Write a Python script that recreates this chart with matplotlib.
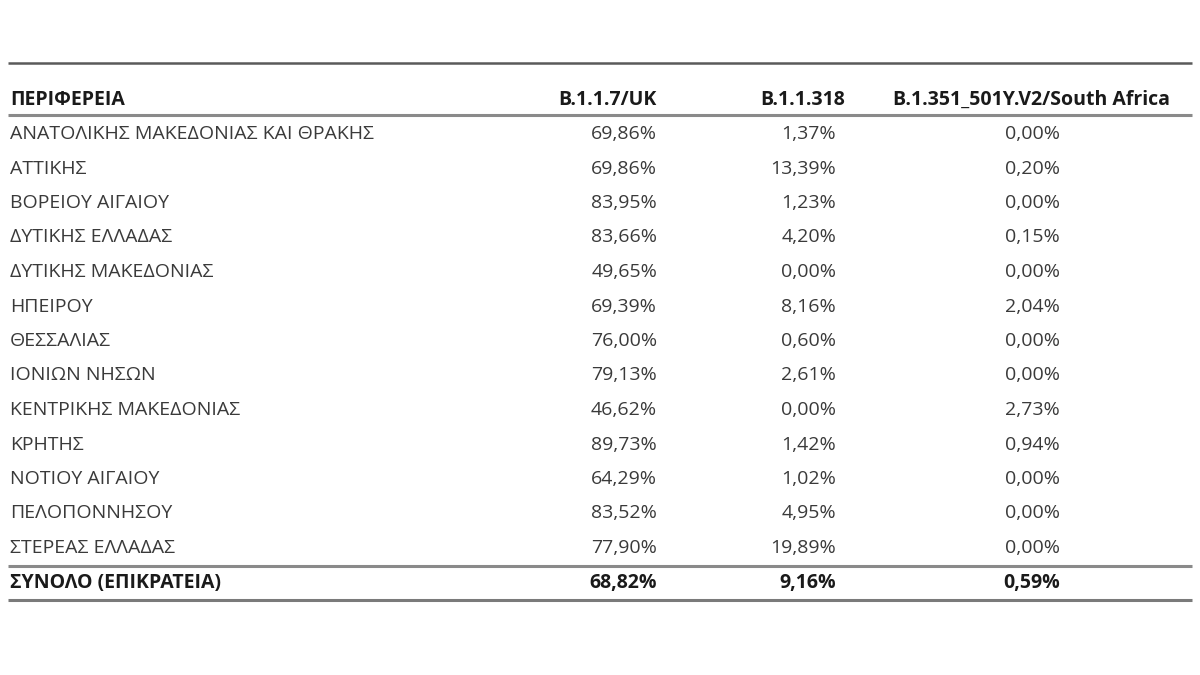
# Greek regions: share of SARS-CoV-2 variants (table as figure)

import matplotlib.pyplot as plt
from matplotlib import font_manager

# Data ........................................................................

header = ["ΠΕΡΙΦΕΡΕΙΑ", "B.1.1.7/UK", "B.1.1.318", "B.1.351_501Y.V2/South Africa"]

regions = [
    "ΑΝΑΤΟΛΙΚΗΣ ΜΑΚΕΔΟΝΙΑΣ ΚΑΙ ΘΡΑΚΗΣ", "ΑΤΤΙΚΗΣ", "ΒΟΡΕΙΟΥ ΑΙΓΑΙΟΥ",
    "ΔΥΤΙΚΗΣ ΕΛΛΑΔΑΣ", "ΔΥΤΙΚΗΣ ΜΑΚΕΔΟΝΙΑΣ", "ΗΠΕΙΡΟΥ", "ΘΕΣΣΑΛΙΑΣ",
    "ΙΟΝΙΩΝ ΝΗΣΩΝ", "ΚΕΝΤΡΙΚΗΣ ΜΑΚΕΔΟΝΙΑΣ", "ΚΡΗΤΗΣ", "ΝΟΤΙΟΥ ΑΙΓΑΙΟΥ",
    "ΠΕΛΟΠΟΝΝΗΣΟΥ", "ΣΤΕΡΕΑΣ ΕΛΛΑΔΑΣ",
]
uk = [69.86, 69.86, 83.95, 83.66, 49.65, 69.39, 76.00, 79.13, 46.62, 89.73, 64.29, 83.52, 77.90]
b318 = [1.37, 13.39, 1.23, 4.20, 0.00, 8.16, 0.60, 2.61, 0.00, 1.42, 1.02, 4.95, 19.89]
sa = [0.00, 0.20, 0.00, 0.15, 0.00, 2.04, 0.00, 0.00, 2.73, 0.94, 0.00, 0.00, 0.00]

total_label = "ΣΥΝΟΛΟ (ΕΠΙΚΡΑΤΕΙΑ)"
total_values = [68.82, 9.16, 0.59]


def pct(v):
    return f"{v:.2f}%".replace(".", ",")


# Font ........................................................................

installed = {f.name for f in font_manager.fontManager.ttflist}
families = [f for f in ["Liberation Sans Narrow", "Open Sans", "DejaVu Sans"] if f in installed]
plt.rcParams["font.family"] = families

# Layout (pixel space) ........................................................

fig = plt.figure(figsize=(12, 6.75), dpi=100)
ax = fig.add_axes([0, 0, 1, 1])
ax.set_xlim(0, 1200)
ax.set_ylim(675, 0)
ax.axis("off")

x_left, x_right = 8, 1192
col_right = [657, 836, 1060]          # right edge of value columns
head_x = [(10, "left"), (657, "right"), (845, "right"), (1170, "right")]
fs = 14
text_col = "#3a3a3a"

# top rule
ax.plot([x_left, x_right], [63, 63], color="#5a5a5a", lw=1.8, solid_capstyle="butt")

# header
y_head = 100
for (x, ha), label in zip(head_x, header):
    ax.text(x, y_head, label, ha=ha, va="center", fontsize=fs,
            fontweight="bold", color="#1a1a1a")
ax.plot([x_left, x_right], [115, 115], color="#8a8a8a", lw=2.2, solid_capstyle="butt")

# body rows
y0, dy = 134, 34.5
for i, name in enumerate(regions):
    y = y0 + i * dy
    ax.text(10, y, name, ha="left", va="center", fontsize=fs, color=text_col)
    for xr, v in zip(col_right, (uk[i], b318[i], sa[i])):
        ax.text(xr, y, pct(v), ha="right", va="center", fontsize=fs, color=text_col)

y_line = y0 + (len(regions) - 1) * dy + 18
ax.plot([x_left, x_right], [y_line, y_line], color="#8a8a8a", lw=2.2, solid_capstyle="butt")

# total row
y_tot = y_line + 17
ax.text(10, y_tot, total_label, ha="left", va="center", fontsize=fs,
        fontweight="bold", color="#1a1a1a")
for xr, v in zip(col_right, total_values):
    ax.text(xr, y_tot, pct(v), ha="right", va="center", fontsize=fs,
            fontweight="bold", color="#1a1a1a")
ax.plot([x_left, x_right], [y_tot + 17, y_tot + 17], color="#7a7a7a", lw=2.2,
        solid_capstyle="butt")

fig.savefig("out.png", dpi=100)
